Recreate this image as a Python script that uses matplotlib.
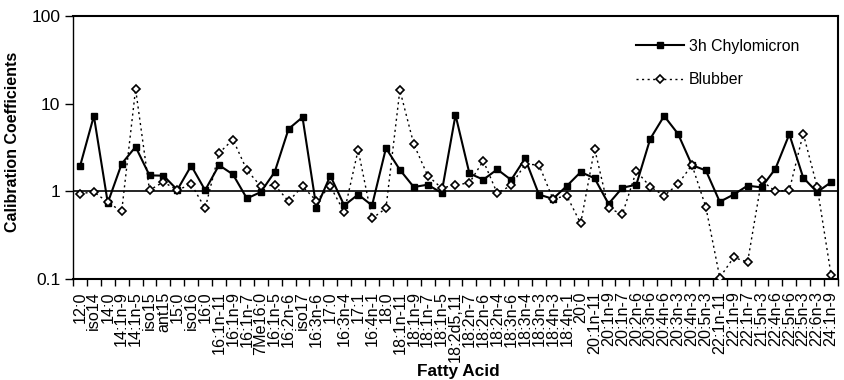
import matplotlib
matplotlib.use("Agg")
from matplotlib import pyplot as plt
from matplotlib.ticker import FixedLocator, NullFormatter, NullLocator
import numpy as np

plt.rcParams['font.family'] = ['Liberation Sans', 'DejaVu Sans']

fatty_acids = [
    "12:0", "iso14", "14:0", "14:1n-9", "14:1n-5", "iso15", "ant15", "15:0",
    "iso16", "16:0", "16:1n-11", "16:1n-9", "16:1n-7", "7Me16:0", "16:1n-5",
    "16:2n-6", "iso17", "16:3n-6", "17:0", "16:3n-4", "17:1", "16:4n-1",
    "18:0", "18:1n-11", "18:1n-9", "18:1n-7", "18:1n-5", "18:2d5,11",
    "18:2n-7", "18:2n-6", "18:2n-4", "18:3n-6", "18:3n-4", "18:3n-3",
    "18:4n-3", "18:4n-1", "20:0", "20:1n-11", "20:1n-9", "20:1n-7",
    "20:2n-6", "20:3n-6", "20:4n-6", "20:3n-3", "20:4n-3", "20:5n-3",
    "22:1n-11", "22:1n-9", "22:1n-7", "21:5n-3", "22:4n-6", "22:5n-6",
    "22:5n-3", "22:6n-3", "24:1n-9",
]

chylomicron = [
    1.92, 7.24, 0.74, 2.06, 3.22, 1.52, 1.51, 1.04, 1.96, 1.03,
    1.99, 1.56, 0.83, 0.98, 1.66, 5.15, 7.0, 0.65, 1.51, 0.69,
    0.92, 0.69, 3.11, 1.76, 1.12, 1.19, 0.96, 7.43, 1.60, 1.36,
    1.78, 1.35, 2.37, 0.92, 0.82, 1.15, 1.66, 1.41, 0.72, 1.10,
    1.19, 3.97, 7.24, 4.52, 1.99, 1.73, 0.76, 0.92, 1.16, 1.11,
    1.81, 4.48, 1.43, 0.98, 1.27,
]

blubber = [
    0.94, 0.985, 0.75, 0.59, 14.7, 1.03, 1.28, 1.03, 1.21, 0.64,
    2.73, 3.9, 1.75, 1.14, 1.18, 0.77, 1.14, 0.78, 1.14, 0.58,
    2.97, 0.49, 0.64, 14.3, 3.45, 1.51, 1.09, 1.18, 1.25, 2.23,
    0.95, 1.17, 2.03, 2.01, 0.82, 0.89, 0.43, 3.08, 0.64, 0.55,
    1.70, 1.13, 0.89, 1.21, 2.0, 0.66, 0.104, 0.176, 0.156, 1.33,
    1.0, 1.03, 4.56, 1.13, 0.112,
]

x = np.arange(len(fatty_acids))

fig = plt.figure(figsize=(8.44, 3.80), dpi=100)
ax = fig.add_axes([73 / 844, 1 - 279 / 380, 765 / 844, 263 / 380])

ax.axhline(1, color="black", lw=1.2, zorder=1)

ax.plot(x, chylomicron, color="black", lw=1.5, marker="s", markersize=5,
        markerfacecolor="black", markeredgecolor="black", label="3h Chylomicron", zorder=3)
ax.plot(x, blubber, color="black", lw=1.0, linestyle=(0, (1.5, 2.5)), marker="D",
        markersize=4.5, markerfacecolor="white", markeredgecolor="black",
        markeredgewidth=1.2, label="Blubber", zorder=4)

ax.set_yscale("log")
ax.set_ylim(0.1, 100)
ax.set_yticks([0.1, 1, 10, 100])
ax.set_yticklabels(["0.1", "1", "10", "100"])
ax.yaxis.set_minor_locator(NullLocator())
ax.tick_params(axis="y", direction="out", length=6, width=1, labelsize=12.5, pad=3)

ax.set_xlim(-0.5, len(fatty_acids) - 0.5)
ax.set_xticks(x)
ax.set_xticklabels(fatty_acids, rotation=90, fontsize=11.6)
ax.xaxis.set_minor_locator(FixedLocator(np.arange(-0.5, len(fatty_acids), 1.0)))
ax.xaxis.set_minor_formatter(NullFormatter())
ax.tick_params(axis="x", which="major", length=0, pad=9)
ax.tick_params(axis="x", which="minor", direction="out", length=5, width=1)

for side in ["top", "right", "bottom"]:
    ax.spines[side].set_linewidth(1.5)
ax.spines["left"].set_linewidth(1.0)

ax.set_ylabel("Calibration Coefficients", fontsize=11.5, fontweight="bold")
ax.yaxis.set_label_coords(-0.069, 0.52)
fig.text(458 / 844, 1 - 364 / 380, "Fatty Acid", fontsize=12.4, fontweight="bold",
         ha="center", va="top")

ax.legend(loc="upper left", frameon=False, fontsize=11.4, handlelength=3.0,
          handletextpad=0.35, labelspacing=1.15, borderpad=0,
          bbox_to_anchor=(0.736, 0.913), borderaxespad=0)

fig.savefig("out.png", dpi=100)
